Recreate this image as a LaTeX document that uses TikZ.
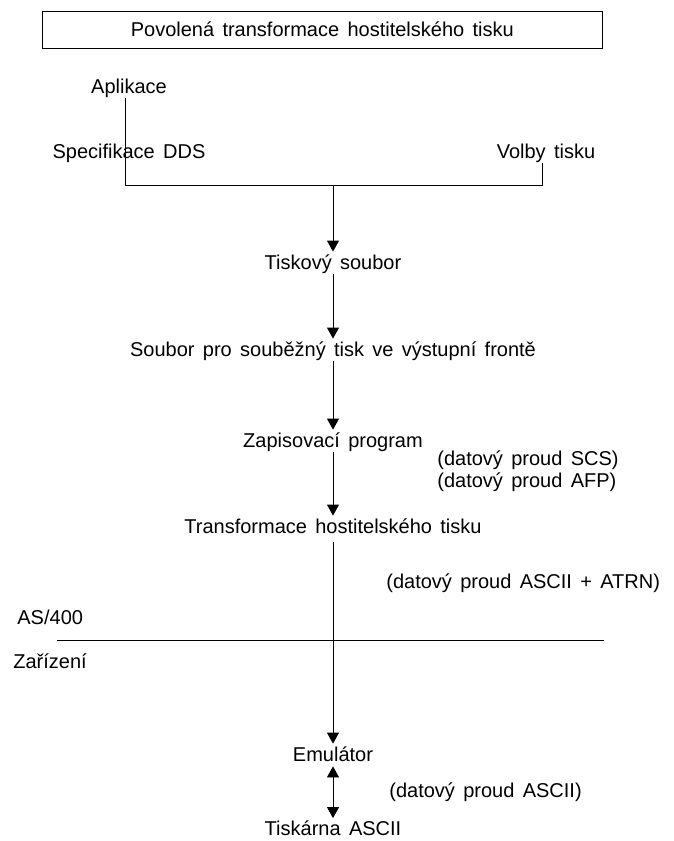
\documentclass[tikz,border=0pt]{standalone}
\usepackage{fontspec}
\setmainfont{Liberation Sans}[WordSpace=1.5]
\usetikzlibrary{arrows.meta,positioning}

\begin{document}
\begin{tikzpicture}[x=1pt,y=-1pt,line width=.8pt,
  lbl/.style={inner sep=0pt,text height=17pt,text depth=5pt,font=\fontsize{20}{24}\selectfont},
  arr/.style={-{Triangle[length=11pt,width=12pt]}},
  darr/.style={{Triangle[length=11pt,width=12pt]}-{Triangle[length=11pt,width=12pt]}}]
\useasboundingbox (0,0) rectangle (673,841);
\node[draw,minimum width=559.5pt,minimum height=37pt,inner sep=0pt,font=\fontsize{20}{24}\selectfont] (tit) at (322.3,29.5) {Povolená transformace hostitelského tisku};
\node[lbl,anchor=base] (apl) at (129,93) {Aplikace};
\node[lbl,anchor=base] (dds) at (129,158) {Specifikace DDS};
\node[lbl,anchor=base] (vol) at (546,158) {Volby tisku};
\coordinate (jl) at (125,185);
\coordinate (jr) at (542,185);
\coordinate (jm) at (333,185);
\node[lbl,anchor=base] (tsb) at (333,269) {Tiskový soubor};
\node[lbl,anchor=base] (spl) at (333,356) {Soubor pro souběžný tisk ve výstupní frontě};
\node[lbl,anchor=base] (zap) at (333,447) {Zapisovací program};
\node[lbl,anchor=base west] (scs) at (437,465) {(datový proud SCS)};
\node[lbl,anchor=base west] (afp) at (437,487) {(datový proud AFP)};
\node[lbl,anchor=base] (htt) at (333,533) {Transformace hostitelského tisku};
\node[lbl,anchor=base west] (atrn) at (386,588) {(datový proud ASCII + ATRN)};
\node[lbl,anchor=base west] (as) at (17,624) {AS/400};
\node[lbl,anchor=base west] (zar) at (13,668) {Zařízení};
\coordinate (dl) at (57,640);
\coordinate (dr) at (604,640);
\node[lbl,anchor=base] (emu) at (333,761) {Emulátor};
\node[lbl,anchor=base west] (asc) at (389,797) {(datový proud ASCII)};
\node[lbl,text depth=0pt,anchor=base] (prn) at (333,835.5) {Tiskárna ASCII};
\draw (apl.south -| jl) -- (jl) -- (jr) -- (vol.south -| jr);
\draw[arr] (jm) -- (tsb);
\draw[arr] (tsb) -- (spl);
\draw[arr] (spl) -- (zap);
\draw[arr] (zap) -- (htt);
\draw[arr,shorten <=4pt] (htt) -- (emu);
\draw (dl) -- (dr);
\draw[darr] (emu) -- (prn);
\end{tikzpicture}
\end{document}
